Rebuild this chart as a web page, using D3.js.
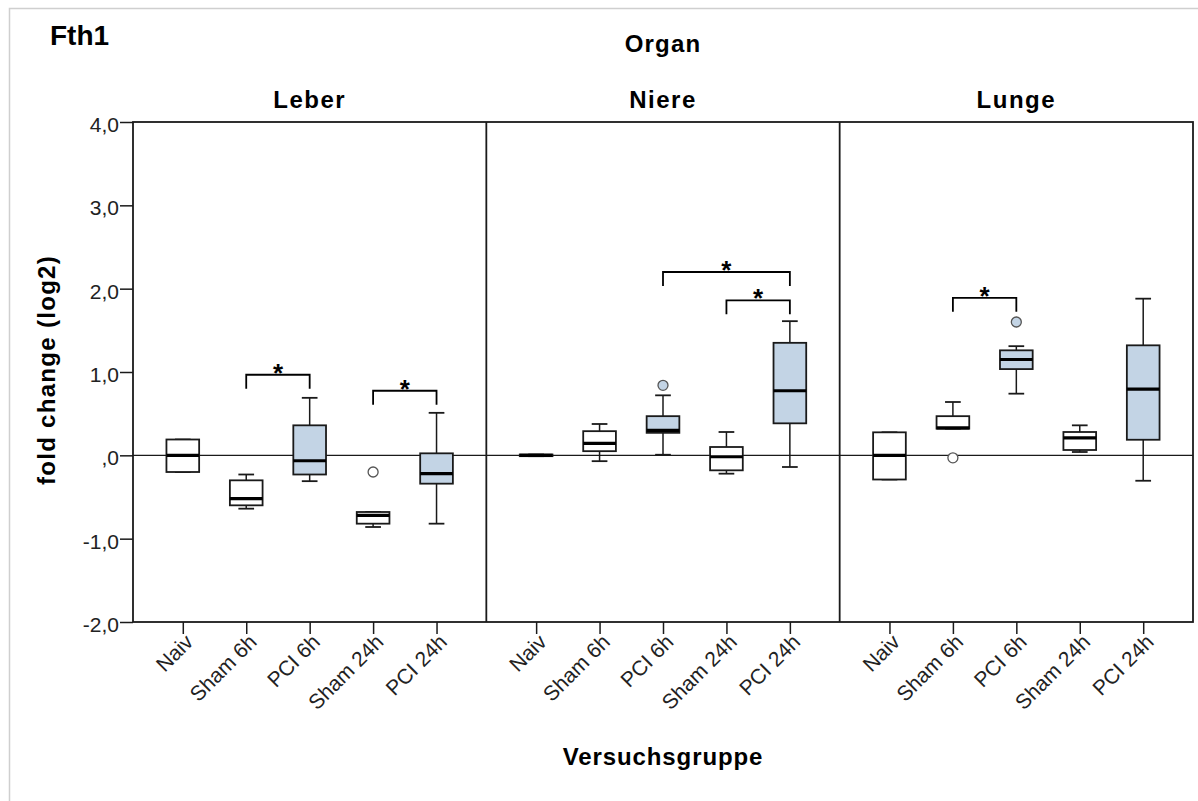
<!DOCTYPE html>
<html>
<head>
<meta charset="utf-8">
<script src="https://cdn.jsdelivr.net/npm/d3@7"></script>
<style>
  body { margin: 0; background: #fff; }
  text { font-family: "Liberation Sans", Arial, sans-serif; }
</style>
</head>
<body>
<div id="chart"></div>
<script>
// data
const organs = ['Leber', 'Niere', 'Lunge'];
const groups = ['Naiv', 'Sham 6h', 'PCI 6h', 'Sham 24h', 'PCI 24h'];
const yTicks = [-2, -1, 0, 1, 2, 3, 4];

// per organ, per group: [whisker low, q1, median, q3, whisker high]
const leberStats = [
  [-0.20, -0.20, 0.00, 0.19, 0.19],
  [-0.64, -0.60, -0.52, -0.30, -0.23],
  [-0.31, -0.23, -0.065, 0.36, 0.69],
  [-0.86, -0.82, -0.72, -0.68, -0.68],
  [-0.82, -0.34, -0.22, 0.024, 0.51]
];
const niereStats = [
  [-0.01, -0.01, 0.00, 0.01, 0.01],
  [-0.07, 0.05, 0.144, 0.29, 0.376],
  [0.007, 0.27, 0.30, 0.47, 0.72],
  [-0.22, -0.18, -0.017, 0.10, 0.28],
  [-0.14, 0.384, 0.775, 1.35, 1.61]
];
const lungeStats = [
  [-0.29, -0.29, 0.00, 0.276, 0.276],
  [0.32, 0.32, 0.33, 0.47, 0.64],
  [0.74, 1.035, 1.15, 1.26, 1.31],
  [0.04, 0.064, 0.21, 0.28, 0.36],
  [-0.305, 0.187, 0.795, 1.32, 1.88]
];
const statsByOrgan = [leberStats, niereStats, lungeStats];

// outliers: organ, group, value
const outlierOrgan = ['Leber', 'Niere', 'Lunge', 'Lunge'];
const outlierGroup = ['Sham 24h', 'PCI 6h', 'Sham 6h', 'PCI 6h'];
const outlierValue = [-0.20, 0.84, -0.03, 1.60];

// significance brackets: organ, from, to, height
const bracketOrgan = ['Leber', 'Leber', 'Niere', 'Niere', 'Lunge'];
const bracketFrom = ['Sham 6h', 'Sham 24h', 'PCI 6h', 'Sham 24h', 'Sham 6h'];
const bracketTo = ['PCI 6h', 'PCI 24h', 'PCI 24h', 'PCI 24h', 'PCI 6h'];
const bracketValue = [0.967, 0.775, 2.20, 1.86, 1.89];

const W = 1198, H = 801;
const plotLeft = 133, plotRight = 1193, plotTop = 122, plotBottom = 622;
const fillBlue = '#c3d4e5';
const ink = '#1a1a1a';

const svg = d3.select('#chart').append('svg')
  .attr('width', W).attr('height', H);

// outer frame (light grey, runs off the image at right/bottom)
svg.append('rect')
  .attr('x', 9.5).attr('y', 8.5)
  .attr('width', W).attr('height', H)
  .attr('fill', 'none').attr('stroke', '#cfcfcf').attr('stroke-width', 1.5);

const yScale = d3.scaleLinear().domain([-2, 4]).range([plotBottom, plotTop]);
const panelScale = d3.scaleBand().domain(organs).range([plotLeft, plotRight]);
const xInner = d3.scalePoint().domain(groups)
  .range([0, panelScale.bandwidth()]).padding(0.785);
const xPos = (organ, g) => panelScale(organ) + xInner(g);
const boxW = 32.7, capW = 15.7;

// titles
svg.append('text').attr('x', 50).attr('y', 45)
  .attr('font-size', 28).attr('font-weight', 'bold').text('Fth1');
svg.append('text').attr('x', (plotLeft + plotRight) / 2).attr('y', 52)
  .attr('text-anchor', 'middle').attr('font-size', 24).attr('font-weight', 'bold')
  .attr('letter-spacing', 1.2)
  .text('Organ');
svg.selectAll('.organ-label').data(organs).enter().append('text')
  .attr('class', 'organ-label')
  .attr('x', d => panelScale(d) + panelScale.bandwidth() / 2)
  .attr('y', 108)
  .attr('text-anchor', 'middle').attr('font-size', 24).attr('font-weight', 'bold')
  .attr('letter-spacing', 1.5)
  .text(d => d);

// zero line
svg.append('line')
  .attr('x1', plotLeft).attr('x2', plotRight)
  .attr('y1', yScale(0)).attr('y2', yScale(0))
  .attr('stroke', ink).attr('stroke-width', 1.2);

// y axis
const yAxis = d3.axisLeft(yScale).tickValues(yTicks).tickSize(13).tickPadding(1)
  .tickFormat(d => d === 0 ? ',0' : d3.format('.1f')(d).replace('.', ',').replace('\u2212', '-'));
const yg = svg.append('g').attr('transform', `translate(${plotLeft},0)`).call(yAxis);
yg.select('.domain').remove();
yg.selectAll('line').attr('stroke', ink).attr('stroke-width', 1.5);
yg.selectAll('text').attr('font-size', 21).attr('fill', '#222')
  .attr('dy', '0.45em')
  .attr('font-family', '"Liberation Sans", Arial, sans-serif');

svg.append('text')
  .attr('transform', `translate(55,${(plotTop + plotBottom) / 2 - 2}) rotate(-90)`)
  .attr('text-anchor', 'middle').attr('font-size', 24).attr('font-weight', 'bold')
  .attr('letter-spacing', 1.3)
  .text('fold change (log2)');

// x axes per panel
organs.forEach(organ => {
  const sc = d3.scalePoint().domain(groups)
    .range([panelScale(organ), panelScale(organ) + panelScale.bandwidth()]).padding(0.785);
  const g = svg.append('g').attr('transform', `translate(0,${plotBottom})`)
    .call(d3.axisBottom(sc).tickSize(12));
  g.select('.domain').remove();
  g.selectAll('line').attr('stroke', ink).attr('stroke-width', 1.5);
  g.selectAll('text')
    .attr('font-size', 21).attr('fill', '#222')
    .attr('font-family', '"Liberation Sans", Arial, sans-serif')
    .attr('text-anchor', 'end')
    .attr('transform', 'translate(6,16) rotate(-45)')
    .attr('dy', '0.35em').attr('y', 0).attr('x', 0);
});

svg.append('text').attr('x', (plotLeft + plotRight) / 2).attr('y', 765)
  .attr('text-anchor', 'middle').attr('font-size', 24).attr('font-weight', 'bold')
  .attr('letter-spacing', 0.9)
  .text('Versuchsgruppe');

// boxes
const boxRows = [];
organs.forEach((organ, oi) => {
  groups.forEach((g, gi) => {
    const s = statsByOrgan[oi][gi];
    boxRows.push({ organ, g, lo: s[0], q1: s[1], med: s[2], q3: s[3], hi: s[4] });
  });
});

const box = svg.selectAll('.box').data(boxRows).enter().append('g').attr('class', 'box');
box.append('line')
  .attr('x1', d => xPos(d.organ, d.g)).attr('x2', d => xPos(d.organ, d.g))
  .attr('y1', d => yScale(d.hi)).attr('y2', d => yScale(d.lo))
  .attr('stroke', ink).attr('stroke-width', 1.5);
box.selectAll('.cap').data(d => [d, d].map((e, i) => ({ x: xPos(e.organ, e.g), v: i ? e.hi : e.lo })))
  .enter().append('line').attr('class', 'cap')
  .attr('x1', d => d.x - capW / 2).attr('x2', d => d.x + capW / 2)
  .attr('y1', d => yScale(d.v)).attr('y2', d => yScale(d.v))
  .attr('stroke', ink).attr('stroke-width', 1.8);
box.append('rect')
  .attr('x', d => xPos(d.organ, d.g) - boxW / 2)
  .attr('y', d => yScale(d.q3))
  .attr('width', boxW)
  .attr('height', d => Math.max(0.5, yScale(d.q1) - yScale(d.q3)))
  .attr('fill', d => d.g.startsWith('PCI') ? fillBlue : '#fff')
  .attr('stroke', ink).attr('stroke-width', 1.8);
box.append('line')
  .attr('x1', d => xPos(d.organ, d.g) - boxW / 2).attr('x2', d => xPos(d.organ, d.g) + boxW / 2)
  .attr('y1', d => yScale(d.med)).attr('y2', d => yScale(d.med))
  .attr('stroke', '#000').attr('stroke-width', 3.2);

// outliers
svg.selectAll('.outlier').data(outlierValue).enter().append('circle')
  .attr('class', 'outlier')
  .attr('cx', (d, i) => xPos(outlierOrgan[i], outlierGroup[i]))
  .attr('cy', d => yScale(d))
  .attr('r', 5)
  .attr('fill', (d, i) => outlierGroup[i].startsWith('PCI') ? fillBlue : '#fff')
  .attr('stroke', '#555').attr('stroke-width', 1.3);

// significance brackets
const legDrop = 14;
const br = svg.selectAll('.bracket').data(bracketValue).enter().append('g').attr('class', 'bracket');
br.append('path')
  .attr('d', (d, i) => {
    const x1 = xPos(bracketOrgan[i], bracketFrom[i]);
    const x2 = xPos(bracketOrgan[i], bracketTo[i]);
    const y = yScale(d);
    return `M${x1},${y + legDrop}V${y}H${x2}V${y + legDrop}`;
  })
  .attr('fill', 'none').attr('stroke', '#000').attr('stroke-width', 1.8);
br.append('text')
  .attr('x', (d, i) => (xPos(bracketOrgan[i], bracketFrom[i]) + xPos(bracketOrgan[i], bracketTo[i])) / 2)
  .attr('y', d => yScale(d) + 7)
  .attr('text-anchor', 'middle').attr('font-size', 26).attr('font-weight', 'bold')
  .text('*');

// frame and panel dividers
svg.append('rect')
  .attr('x', plotLeft).attr('y', plotTop)
  .attr('width', plotRight - plotLeft).attr('height', plotBottom - plotTop)
  .attr('fill', 'none').attr('stroke', ink).attr('stroke-width', 1.8);
svg.selectAll('.divider').data(organs.slice(1)).enter().append('line')
  .attr('class', 'divider')
  .attr('x1', d => panelScale(d)).attr('x2', d => panelScale(d))
  .attr('y1', plotTop).attr('y2', plotBottom)
  .attr('stroke', ink).attr('stroke-width', 1.8);
</script>
</body>
</html>
